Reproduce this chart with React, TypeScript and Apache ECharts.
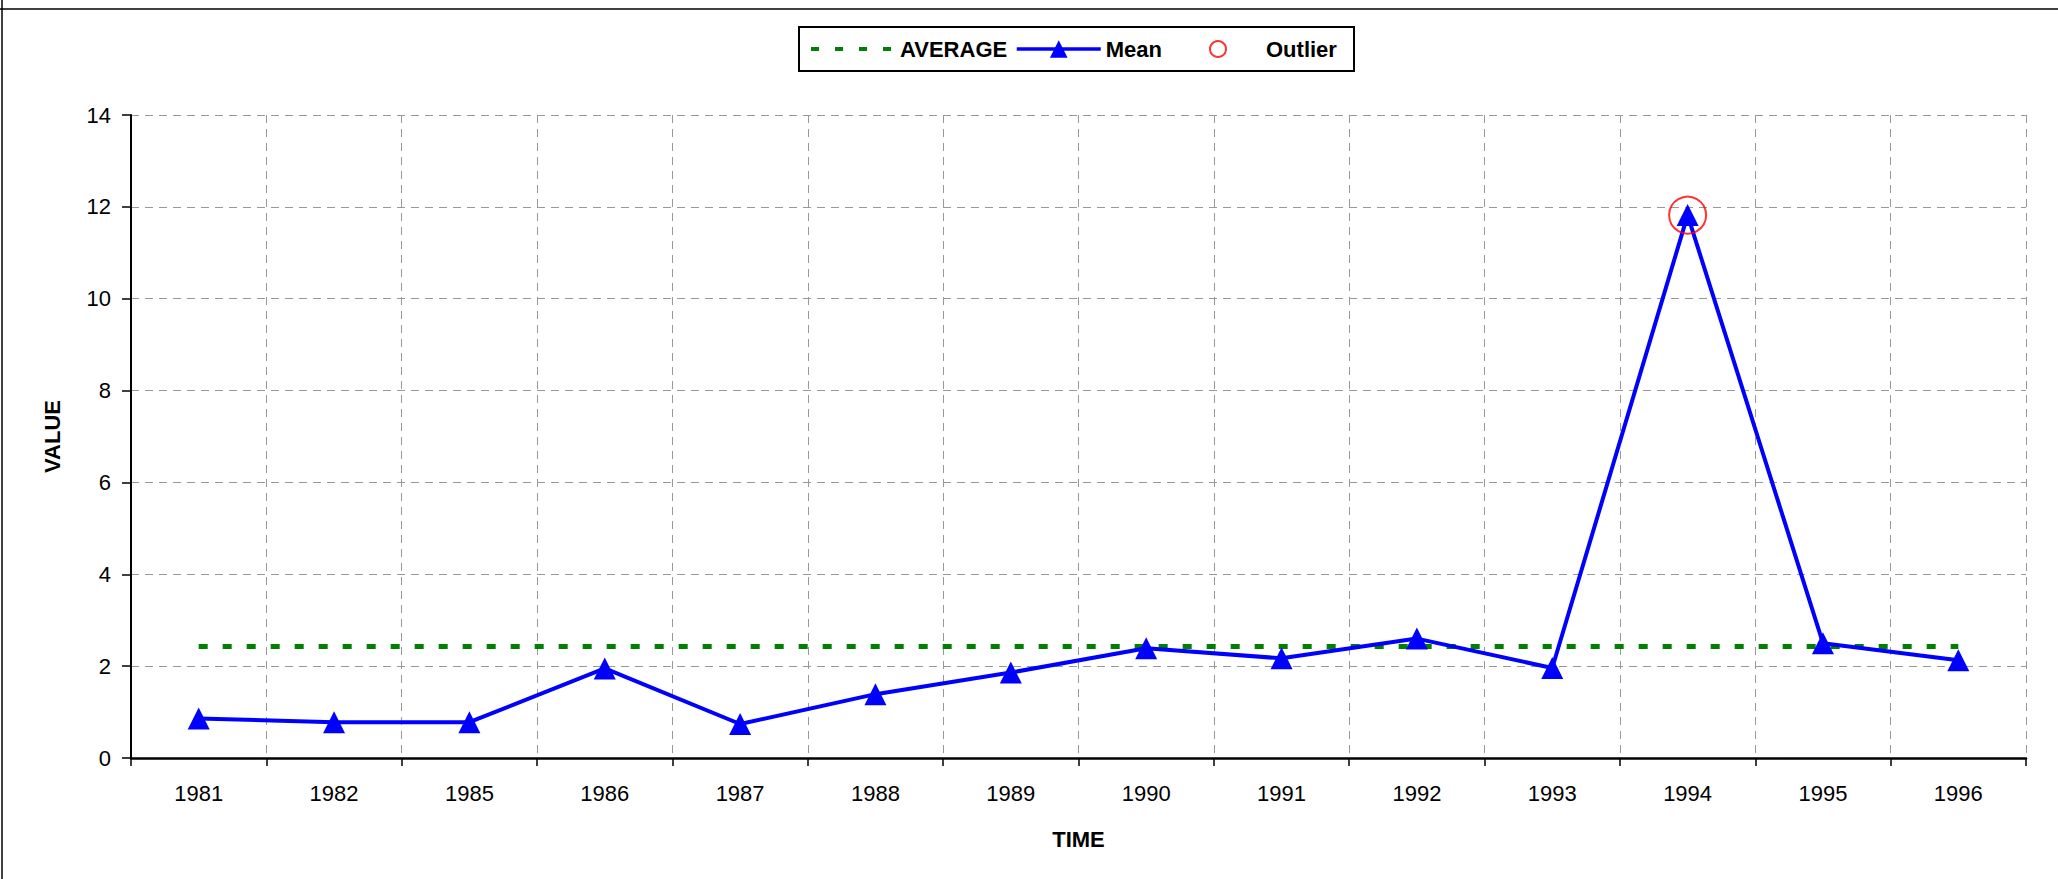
import React, { useEffect, useRef } from "react";
import * as echarts from "echarts";

const categories = ["1981", "1982", "1985", "1986", "1987", "1988", "1989", "1990", "1991", "1992", "1993", "1994", "1995", "1996"];
const meanValues = [0.86, 0.78, 0.78, 1.95, 0.74, 1.39, 1.86, 2.39, 2.17, 2.6, 1.96, 11.82, 2.5, 2.13];
const averageValues = [2.43, 2.43, 2.43, 2.43, 2.43, 2.43, 2.43, 2.43, 2.43, 2.43, 2.43, 2.43, 2.43, 2.43];
const outlierPoints: [string, number][] = [["1994", 11.82]];
const yTicks = { min: 0, max: 14, interval: 2 };

const FONT = "'Liberation Sans', Arial, sans-serif";
const legendText = { fontFamily: FONT, fontSize: 22, fontWeight: "bold", color: "#000" };

export default function App() {
  const ref = useRef<HTMLDivElement>(null);

  useEffect(() => {
    if (!ref.current) return;
    const chart = echarts.init(ref.current, null, { renderer: "svg" });
    chart.setOption({
      animation: false,
      backgroundColor: "#ffffff",
      textStyle: { fontFamily: FONT, color: "#000" },
      graphic: [
        { type: "line", shape: { x1: 0, y1: 9, x2: 2058, y2: 9 }, style: { stroke: "#000", lineWidth: 1.5 } },
        { type: "line", shape: { x1: 2, y1: 0, x2: 2, y2: 879 }, style: { stroke: "#000", lineWidth: 1.5 } },
        {
          type: "rect",
          shape: { x: 799, y: 27, width: 555, height: 44 },
          style: { fill: "#fff", stroke: "#000", lineWidth: 2 },
          z: -1,
        },
      ],
      legend: [
        {
          left: 809,
          top: 38,
          padding: 0,
          itemWidth: 84,
          itemHeight: 22,
          textStyle: legendText,
          data: ["AVERAGE"],
          lineStyle: { width: 4, type: [8, 16], color: "#008000" },
          itemStyle: { color: "rgba(0,0,0,0)", borderColor: "rgba(0,0,0,0)", borderWidth: 0, opacity: 0 },
        },
        {
          left: 1015,
          top: 38,
          padding: 0,
          itemWidth: 84,
          itemHeight: 22,
          textStyle: legendText,
          data: ["Mean"],
          lineStyle: { width: 3.5, color: "#0000ff" },
        },
        {
          left: 1209,
          top: 38,
          padding: 0,
          itemWidth: 86,
          itemHeight: 16,
          textStyle: legendText,
          data: [{ name: "Outlier", icon: "circle" }],
        },
      ],
      grid: { left: 131, right: 32, top: 115, bottom: 121, containLabel: false },
      xAxis: {
        type: "category",
        data: categories,
        boundaryGap: true,
        name: "TIME",
        nameLocation: "middle",
        nameGap: 70,
        nameTextStyle: { fontFamily: FONT, fontSize: 22, fontWeight: "bold", color: "#000" },
        axisLine: { show: true, lineStyle: { color: "#000", width: 2.5 } },
        axisTick: { show: true, length: 8, lineStyle: { color: "#000", width: 1.5 }, interval: 0 },
        axisLabel: { fontFamily: FONT, fontSize: 22, color: "#000", margin: 24, interval: 0 },
        splitLine: { show: true, interval: 0, lineStyle: { color: "#999", width: 1, type: [8, 6] } },
      },
      yAxis: {
        type: "value",
        min: yTicks.min,
        max: yTicks.max,
        interval: yTicks.interval,
        name: "VALUE",
        nameLocation: "middle",
        nameGap: 68,
        nameTextStyle: { fontFamily: FONT, fontSize: 22, fontWeight: "bold", color: "#000" },
        axisLine: { show: true, lineStyle: { color: "#000", width: 2 } },
        axisTick: { show: true, length: 9, lineStyle: { color: "#000", width: 1.5 } },
        axisLabel: { fontFamily: FONT, fontSize: 22, color: "#000", margin: 20 },
        splitLine: { show: true, lineStyle: { color: "#999", width: 1, type: [8, 6] } },
      },
      series: [
        {
          name: "AVERAGE",
          type: "line",
          data: averageValues,
          symbol: "none",
          lineStyle: { color: "#008000", width: 5, type: [9, 15] },
          itemStyle: { color: "#008000" },
          z: 2,
        },
        {
          name: "Mean",
          type: "line",
          data: meanValues,
          symbol: "triangle",
          symbolSize: 22,
          lineStyle: { color: "#0000ff", width: 4 },
          itemStyle: { color: "#0000ff" },
          z: 3,
        },
        {
          name: "Outlier",
          type: "scatter",
          data: outlierPoints,
          symbol: "circle",
          symbolSize: 37,
          itemStyle: { color: "rgba(255,255,255,0)", borderColor: "#ff0000", borderWidth: 2 },
          z: 4,
        },
      ],
    });
    return () => chart.dispose();
  }, []);

  return (
    <div
      ref={ref}
      style={{ position: "fixed", left: 0, top: 0, width: 2058, height: 879, background: "#fff" }}
    />
  );
}
